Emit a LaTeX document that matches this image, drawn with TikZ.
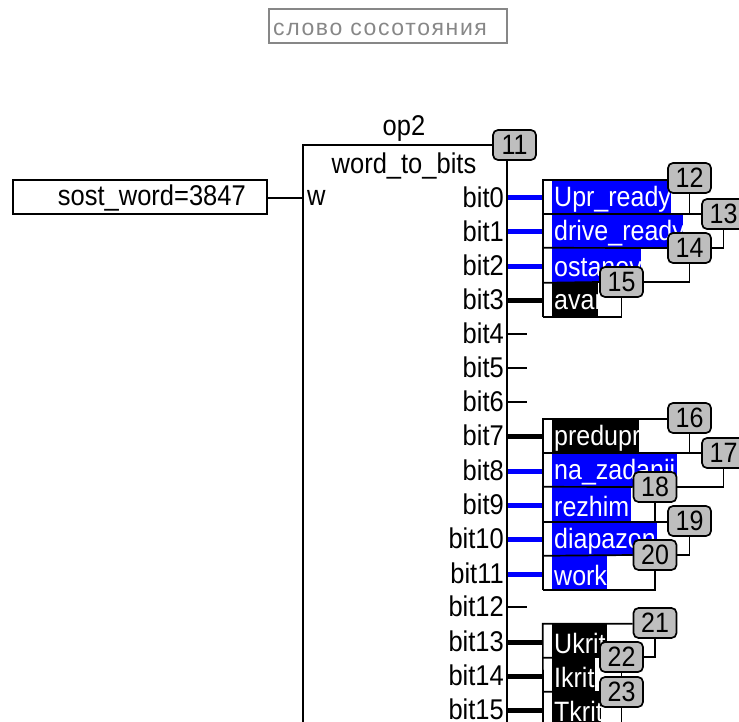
\documentclass[tikz,border=0pt]{standalone}
\usepackage{fontspec}
\usepackage{graphicx}
\setmainfont{Liberation Sans}
\newfontfamily\spacedfont[LetterSpace=7]{Liberation Sans}
\definecolor{badgegray}{RGB}{190,190,190}
\definecolor{notegray}{RGB}{135,135,135}
\newcommand\tall[1]{\scalebox{1}[1.12]{#1}}
\tikzset{
  px/.style={x=1pt,y=-1pt},
  txt/.style={inner sep=0pt,font=\fontsize{25.5}{28}\selectfont},
  wire/.style={line width=1.7pt,black},
  stubthin/.style={line width=1.7pt,black},
  stubblack/.style={line width=5pt,black},
  stubblue/.style={line width=5pt,blue},
  badge/.style={draw=black,line width=1.7pt,fill=badgegray,rounded corners=5pt,inner sep=0pt,
    minimum width=43pt,minimum height=30pt,font=\fontsize{25}{28}\selectfont},
  strip/.style={inner sep=0pt,minimum width=9pt,fill=white},
  cellfill/.style={inner sep=0pt,anchor=west},
  celltext/.style={inner sep=0pt,font=\fontsize{25}{28}\selectfont,text=white,anchor=west},
  bitlabel/.style={txt,anchor=east},
}
% id, top, bottom, fill width, colour, text
\newcommand\rowcell[6]{%
  \node[strip,minimum height={#3-#2}] (s#1) at (547.5,{(#2+#3)/2}) {};
  \node[cellfill,fill=#5,minimum width=#4,minimum height={#3-#2}] (c#1) at (552,{(#2+#3)/2}) {};
  \node[celltext] (t#1) at (554,{(#2+#3)/2+2}) {\tall{#6}};
}
\newcommand\bitrow[2]{%
  \coordinate (p#1) at (507,#2);
  \node[bitlabel] (b#1) at (504,#2-1) {\tall{bit#1}};
}
\begin{document}
\begin{tikzpicture}[px]
\useasboundingbox (0,0) rectangle (739,722);
% note
\node[draw=notegray,line width=1.7pt,inner sep=0pt,minimum width=238pt,minimum height=34pt] (note) at (388,26) {};
\node[inner sep=0pt,anchor=west,text=notegray,font=\fontsize{23}{26}\spacedfont] (notetext) at (273,29) {слово сосотояния};
% input
\node[draw=black,line width=1.7pt,inner sep=0pt,minimum width=254pt,minimum height=34pt] (input) at (140,197) {};
\node[txt,anchor=east] (inputtext) at (246,198) {\tall{sost\_word=3847}};
% block
\coordinate (blockBL) at (303,722);
\coordinate (blockTL) at (303,145);
\coordinate (blockBR) at (507,722);
\node[txt] (op) at (404,128) {\tall{op2}};
\node[txt] (fname) at (404,166) {\tall{word\_to\_bits}};
\node[txt,anchor=west] (w) at (307,198) {\tall{w}};
\coordinate (inW) at (303,198);
\draw[wire] (input.east |- inW) -- (inW);
% bits
\bitrow{0}{198}\bitrow{1}{232}\bitrow{2}{266}\bitrow{3}{300}
\bitrow{4}{334}\bitrow{5}{368}\bitrow{6}{402}\bitrow{7}{436}
\bitrow{8}{471}\bitrow{9}{505}\bitrow{10}{539}\bitrow{11}{574}
\bitrow{12}{607}\bitrow{13}{642}\bitrow{14}{676}\bitrow{15}{710}
% cells
\rowcell{0}{180}{214}{119}{blue}{Upr\_ready}
\rowcell{1}{214}{248}{131}{blue}{drive\_ready}
\rowcell{2}{248}{283}{89}{blue}{ostanov}
\rowcell{3}{283}{317}{46}{black}{avar}
\rowcell{7}{419}{453}{87}{black}{predupr}
\rowcell{8}{453}{487}{125}{blue}{na\_zadanii}
\rowcell{9}{487}{522}{79}{blue}{rezhim}
\rowcell{10}{522}{556}{105}{blue}{diapazon}
\rowcell{11}{556}{590}{55}{blue}{work}
\rowcell{13}{624}{658}{55}{black}{Ukrit}
\rowcell{14}{658}{692}{43}{black}{Ikrit}
\rowcell{15}{692}{726}{49}{black}{Tkrit}
% stubs
\foreach \i in {0,1,2,8,9,10,11} \draw[stubblue] (p\i) -- (p\i -| s\i.west);
\foreach \i in {3,7,13,14,15} \draw[stubblack] (p\i) -- (p\i -| s\i.west);
\foreach \i in {4,5,6,12} \draw[stubthin] (p\i) -- ++(20,0);
% badges
\node[badge] (n11) at (514.5,145) {\tall{11}};
\node[badge] (n12) at (689.5,178) {\tall{12}};
\node[badge] (n13) at (723.5,214) {\tall{13}};
\node[badge] (n14) at (689.5,248) {\tall{14}};
\node[badge] (n15) at (621.5,282) {\tall{15}};
\node[badge] (n16) at (689.5,418) {\tall{16}};
\node[badge] (n17) at (723.5,453) {\tall{17}};
\node[badge] (n18) at (655,487) {\tall{18}};
\node[badge] (n19) at (689.5,521) {\tall{19}};
\node[badge] (n20) at (655,555) {\tall{20}};
\node[badge] (n21) at (655,623) {\tall{21}};
\node[badge] (n22) at (621.5,657) {\tall{22}};
\node[badge] (n23) at (621.5,692) {\tall{23}};
% frame of the block
\draw[wire] (blockBL) -- (blockTL) -- (n11.west);
\draw[wire] (n11.south -| blockBR) -- (blockBR);
% connectors group 1
\draw[wire] (s3.south west) -- (s0.north west) -- (n12.west |- s0.north);
\draw[wire] (n12.south) -- (n12.south |- s1.north);
\draw[wire] (s1.north west) -- (n13.west |- s1.north);
\draw[wire] (n13.south) |- (n14.east);
\draw[wire] (s2.north west) -- (n14.west);
\draw[wire] (n14.south) |- (n15.east);
\draw[wire] (s3.north west) -- (n15.west);
\draw[wire] (n15.south) |- (s3.south west);
% connectors group 2
\draw[wire] (s11.south west) -- (s7.north west) -- (n16.west |- s7.north);
\draw[wire] (n16.south) -- (n16.south |- s8.north);
\draw[wire] (s8.north west) -- (n17.west |- s8.north);
\draw[wire] (n17.south) |- (n18.east);
\draw[wire] (s9.north west) -- (n18.west);
\draw[wire] (n18.south) -- (n18.south |- s10.north);
\draw[wire] (s10.north west) -- (n19.west |- s10.north);
\draw[wire] (n19.south) |- (n20.east);
\draw[wire] (s11.north west) -- (n20.west);
\draw[wire] (n20.south) |- (s11.south west);
% connectors group 3
\coordinate (frameEnd) at (543,722);
\draw[wire] (frameEnd) -- (s13.north west) -- (n21.west |- s13.north);
\draw[wire] (n21.south) |- (n22.east);
\draw[wire] (s14.north west) -- (n22.west);
\draw[wire] (n22.south) -- (n23.north);
\draw[wire] (s15.north west) -- (n23.west);
\coordinate (end23) at (621.5,722);
\draw[wire] (n23.south) -- (end23);
\end{tikzpicture}
\end{document}
